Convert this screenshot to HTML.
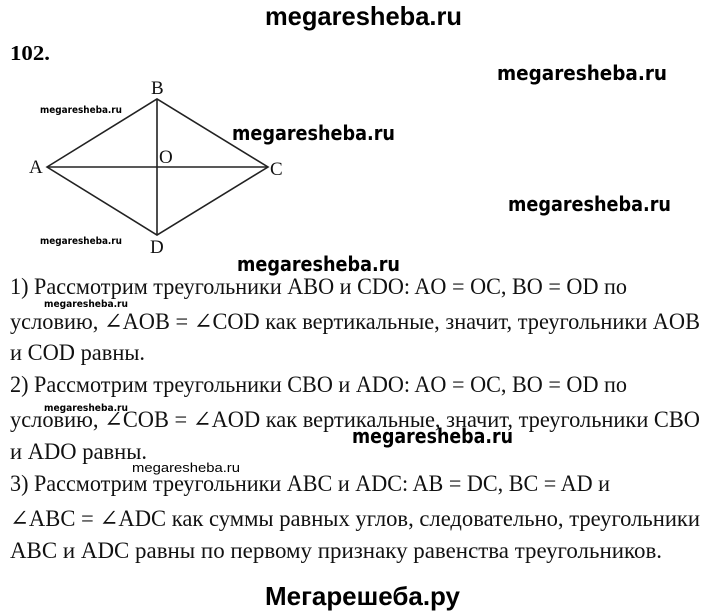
<!DOCTYPE html>
<html><head><meta charset="utf-8"><style>
html,body{margin:0;padding:0;background:#fff;}
svg{display:block;}
.w{font-family:"DejaVu Sans","Liberation Sans",sans-serif;font-weight:bold;fill:#000;}
.s{font-family:"Liberation Sans",sans-serif;font-weight:bold;fill:#000;}
.t{font-family:"Liberation Serif","DejaVu Serif",serif;fill:#111;font-size:23px;}
.l{font-family:"Liberation Serif",serif;fill:#111;font-size:19px;}
</style></head><body>
<svg width="720" height="613" viewBox="0 0 720 613" xmlns="http://www.w3.org/2000/svg">
<rect width="720" height="613" fill="#fff"/>
<text class="s" x="265" y="25" font-size="26" textLength="197" lengthAdjust="spacingAndGlyphs">megaresheba.ru</text>
<text x="10" y="60" font-family="Liberation Serif,serif" font-weight="bold" font-size="21" textLength="40" lengthAdjust="spacingAndGlyphs">102.</text>
<text class="w" x="497" y="80" font-size="20" textLength="170" lengthAdjust="spacingAndGlyphs">megaresheba.ru</text>
<text class="w" x="232" y="140" font-size="20" textLength="163" lengthAdjust="spacingAndGlyphs">megaresheba.ru</text>
<text class="w" x="508" y="211" font-size="20" textLength="163" lengthAdjust="spacingAndGlyphs">megaresheba.ru</text>
<text class="w" x="237" y="271" font-size="20" textLength="163" lengthAdjust="spacingAndGlyphs">megaresheba.ru</text>
<text class="w" x="352" y="443" font-size="20" textLength="161" lengthAdjust="spacingAndGlyphs">megaresheba.ru</text>
<text class="w" x="40" y="113" font-size="10" textLength="82" lengthAdjust="spacingAndGlyphs">megaresheba.ru</text>
<text class="w" x="40" y="244" font-size="10" textLength="82" lengthAdjust="spacingAndGlyphs">megaresheba.ru</text>
<text class="w" x="44" y="307" font-size="10" textLength="84" lengthAdjust="spacingAndGlyphs">megaresheba.ru</text>
<text class="w" x="44" y="411" font-size="10" textLength="84" lengthAdjust="spacingAndGlyphs">megaresheba.ru</text>
<text x="132" y="472" font-family="Liberation Sans,sans-serif" font-size="13" textLength="108" lengthAdjust="spacingAndGlyphs">megaresheba.ru</text>
<g stroke="#222" stroke-width="1.6" fill="none">
<polygon points="47,167 157,99 268,167 157,235"/>
<line x1="47" y1="167" x2="268" y2="167"/>
<line x1="157" y1="99" x2="157" y2="235"/>
</g>
<text class="l" x="151" y="94">B</text>
<text class="l" x="29" y="173">A</text>
<text class="l" x="159" y="163">O</text>
<text class="l" x="270" y="175">C</text>
<text class="l" x="150" y="253">D</text>
<text class="t" x="10" y="294" textLength="617" lengthAdjust="spacingAndGlyphs">1) Рассмотрим треугольники ABO и CDO: AO = OC, BO = OD по</text>
<text class="t" x="10" y="329" textLength="690" lengthAdjust="spacingAndGlyphs">условию, ∠AOB = ∠COD как вертикальные, значит, треугольники AOB</text>
<text class="t" x="10" y="360" textLength="135" lengthAdjust="spacingAndGlyphs">и COD равны.</text>
<text class="t" x="10" y="392" textLength="617" lengthAdjust="spacingAndGlyphs">2) Рассмотрим треугольники CBO и ADO: AO = OC, BO = OD по</text>
<text class="t" x="10" y="427" textLength="690" lengthAdjust="spacingAndGlyphs">условию, ∠COB = ∠AOD как вертикальные, значит, треугольники CBO</text>
<text class="t" x="10" y="459" textLength="137" lengthAdjust="spacingAndGlyphs">и ADO равны.</text>
<text class="t" x="10" y="491" textLength="600" lengthAdjust="spacingAndGlyphs">3) Рассмотрим треугольники ABC и ADC: AB = DC, BC = AD и</text>
<text class="t" x="10" y="526" textLength="690" lengthAdjust="spacingAndGlyphs">∠ABC = ∠ADC как суммы равных углов, следовательно, треугольники</text>
<text class="t" x="10" y="558" textLength="652" lengthAdjust="spacingAndGlyphs">ABC и ADC равны по первому признаку равенства треугольников.</text>
<text class="s" x="265" y="605" font-size="26" textLength="195" lengthAdjust="spacingAndGlyphs">Мегарешеба.ру</text>
</svg>
</body></html>
